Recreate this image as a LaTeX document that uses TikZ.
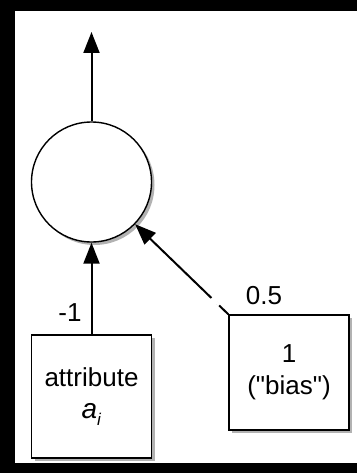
\documentclass[tikz,border=0pt]{standalone}
\usepackage{fontspec}
\setmainfont{Liberation Sans}
\usetikzlibrary{arrows.meta,shadows}
\begin{document}
\begin{tikzpicture}[x=1pt,y=-1pt,
  shad/.style={drop shadow={shadow xshift=3pt,shadow yshift=-3pt,opacity=0.5,fill=black!60}},
  inbox/.style={draw,line width=1.4pt,fill=white,inner sep=0pt,align=center,
    font=\fontsize{26}{32}\selectfont,shad},
  unit/.style={draw,circle,line width=1.4pt,fill=white,minimum size=120pt,inner sep=0pt,shad},
  arr/.style={line width=2pt,-{Triangle[width=16pt,length=21pt]}},
  lbl/.style={inner sep=0pt,font=\fontsize{26}{30}\selectfont}]
\fill[black] (0,0) rectangle (357,473);
\fill[white] (15,11) rectangle (357,463);
\useasboundingbox (0,0) rectangle (357,473);
\node[unit] (sum) at (91.5,182) {};
\node[inbox,minimum width=120pt,minimum height=123pt] (attr) at (91.5,396.5)
  {attribute\\{\fontsize{28}{32}\selectfont\textit{a}}\raisebox{-7pt}{\fontsize{17}{17}\selectfont\textit{i}}};
\node[inbox,minimum width=120pt,minimum height=115pt] (bias) at (289,372.5)
  {1\\(\textquotedbl bias\textquotedbl)};
\coordinate (out) at (91.5,32);
\draw[arr] (sum) -- (out);
\draw[arr] (attr) -- (sum);
\draw[arr] (bias.north west) -- (sum);
\path (bias.north west) -- (sum) coordinate[pos=0.1] (g1) coordinate[pos=0.18] (g2);
\draw[white,line width=3pt] (g1) -- (g2);
\node[lbl] (wa) at (70,313) {-1};
\node[lbl] (wb) at (264,296) {0.5};
\end{tikzpicture}
\end{document}
